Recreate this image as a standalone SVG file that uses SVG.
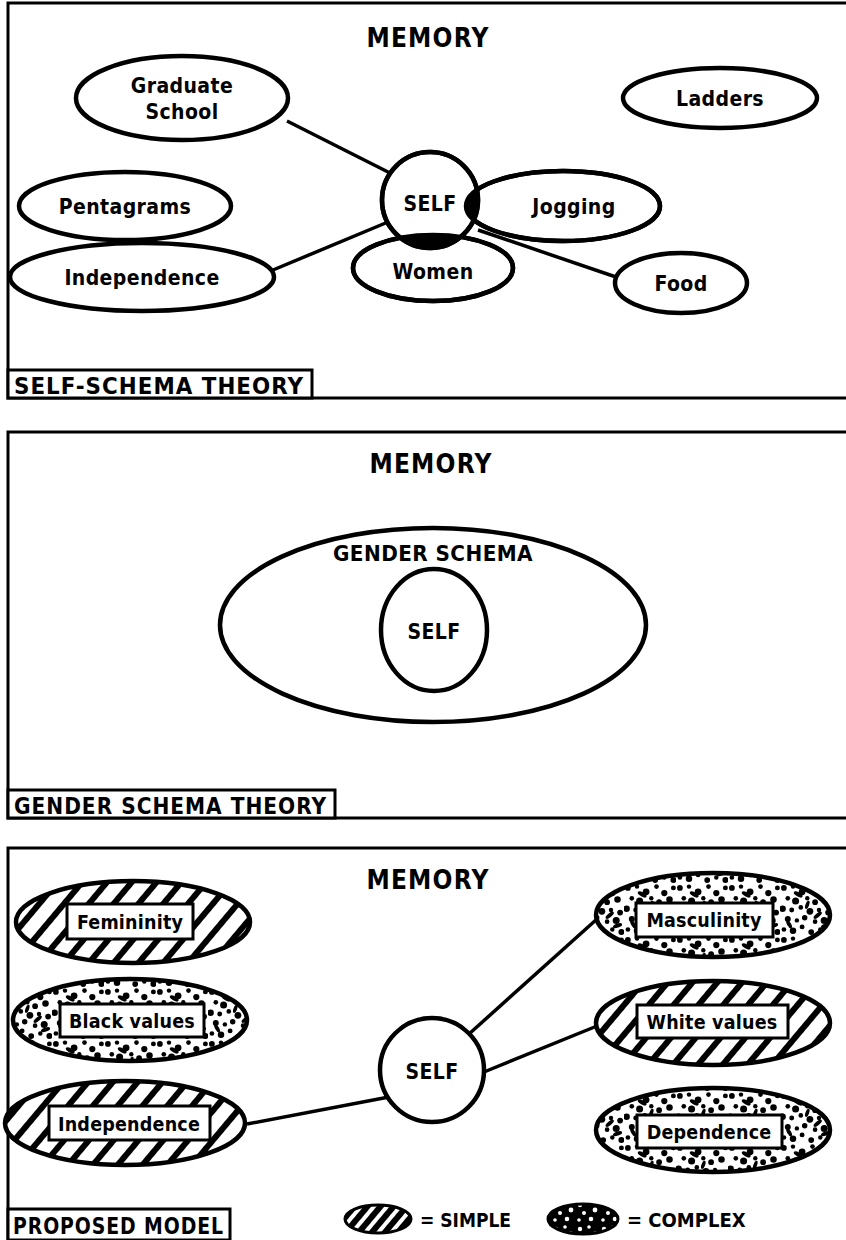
<svg xmlns="http://www.w3.org/2000/svg" width="846" height="1240" viewBox="0 0 846 1240">
<style>
text{font-family:"DejaVu Sans Condensed","DejaVu Sans","Liberation Sans",sans-serif;font-stretch:condensed;font-weight:bold;fill:#000;text-anchor:middle}
.t{font-size:21px;letter-spacing:0.4px}
.b{font-size:19.5px;letter-spacing:0.2px}
.h{font-size:26px;letter-spacing:1.2px}
.lab{font-size:23px;letter-spacing:1px;text-anchor:start}
.frame{fill:none;stroke:#000;stroke-width:3}
.node{fill:#fff;stroke:#000;stroke-width:4.5}
.edge{stroke:#000;stroke-width:3.5;fill:none}
.box{fill:#fff;stroke:#000;stroke-width:3}
.ol{stroke:#000;stroke-width:4.5}
</style>
<defs>
<pattern id="hatch" width="19" height="19" patternUnits="userSpaceOnUse" patternTransform="rotate(40)">
<rect width="19" height="19" fill="#fff"/><rect width="6" height="19" fill="#000"/>
</pattern>
<pattern id="hatchInv" width="10" height="10" patternUnits="userSpaceOnUse" patternTransform="rotate(40)">
<rect width="10" height="10" fill="#000"/><rect width="4" height="10" fill="#fff"/>
</pattern>
<pattern id="stipple" width="40" height="40" patternUnits="userSpaceOnUse" patternTransform="scale(1.3)">
<rect width="40" height="40" fill="#fff"/>
<g fill="#000">
<circle cx="3" cy="3" r="2.2"/><circle cx="10" cy="2" r="1.7"/><circle cx="17" cy="6" r="2.6"/><circle cx="25" cy="2" r="1.8"/><circle cx="31" cy="7" r="2.4"/><circle cx="38" cy="3" r="1.9"/>
<circle cx="6" cy="11" r="1.8"/><circle cx="12" cy="13" r="2.7"/><circle cx="21" cy="11" r="1.7"/><circle cx="27" cy="14" r="2.2"/><circle cx="35" cy="12" r="2.5"/>
<circle cx="2" cy="19" r="2.5"/><circle cx="9" cy="20" r="1.9"/><circle cx="16" cy="18" r="1.8"/><circle cx="23" cy="21" r="2.6"/><circle cx="30" cy="20" r="1.7"/><circle cx="37" cy="22" r="2.2"/>
<circle cx="6" cy="27" r="2.3"/><circle cx="13" cy="28" r="1.7"/><circle cx="19" cy="26" r="2.1"/><circle cx="27" cy="29" r="1.8"/><circle cx="34" cy="28" r="2.7"/>
<circle cx="3" cy="35" r="1.8"/><circle cx="10" cy="36" r="2.5"/><circle cx="17" cy="33" r="1.9"/><circle cx="24" cy="37" r="2.2"/><circle cx="31" cy="35" r="1.7"/><circle cx="38" cy="37" r="2.3"/>
<ellipse cx="14" cy="8" rx="3.8" ry="1.6" transform="rotate(30 14 8)"/><ellipse cx="29" cy="24" rx="3.9" ry="1.5" transform="rotate(-40 29 24)"/>
<ellipse cx="7" cy="31" rx="3.5" ry="1.5" transform="rotate(60 7 31)"/><ellipse cx="35" cy="32" rx="3.7" ry="1.6" transform="rotate(-20 35 32)"/>
<ellipse cx="21" cy="16" rx="3.3" ry="1.4" transform="rotate(-70 21 16)"/>
</g>
</pattern>
<pattern id="stippleInv" width="24" height="24" patternUnits="userSpaceOnUse">
<rect width="24" height="24" fill="#000"/>
<g fill="#fff"><circle cx="4" cy="5" r="2.2"/><circle cx="13" cy="3" r="1.8"/><circle cx="19" cy="10" r="2.4"/><circle cx="8" cy="13" r="2"/><circle cx="3" cy="20" r="1.8"/><circle cx="15" cy="19" r="2.3"/></g>
</pattern>
<clipPath id="clipJog"><ellipse cx="563" cy="206" rx="97" ry="35"/></clipPath>
<clipPath id="clipWomen"><ellipse cx="433" cy="268" rx="80" ry="33"/></clipPath>
</defs>
<rect width="846" height="1240" fill="#fff"/>

<!-- ============ PANEL 1 ============ -->
<g id="panel1">
<path class="frame" d="M846,3 H8 V398 H846"/>
<text class="h" x="428" y="47">MEMORY</text>
<g id="label1"><rect x="8" y="370" width="304" height="28" class="box"/><text class="lab" x="14" y="394" textLength="290" lengthAdjust="spacingAndGlyphs">SELF-SCHEMA THEORY</text></g>
</g>
<g id="connectors1">
<line class="edge" x1="287" y1="121" x2="392" y2="174"/>
<line class="edge" x1="273" y1="270" x2="388" y2="222"/>
<line class="edge" x1="478" y1="230" x2="616" y2="277"/>
</g>
<g id="n1-grad"><ellipse class="node" cx="182" cy="98" rx="106" ry="42"/><text class="t" x="182" y="93">Graduate</text><text class="t" x="182" y="119">School</text></g>
<g id="n1-ladders"><ellipse class="node" cx="720" cy="98" rx="97" ry="30"/><text class="t" x="720" y="106">Ladders</text></g>
<g id="n1-pent"><ellipse class="node" cx="125" cy="206" rx="106" ry="34"/><text class="t" x="125" y="214">Pentagrams</text></g>
<g id="n1-indep"><ellipse class="node" cx="142" cy="277" rx="132" ry="34"/><text class="t" x="142" y="285">Independence</text></g>
<g id="n1-food"><ellipse class="node" cx="681" cy="283" rx="66" ry="30"/><text class="t" x="681" y="291">Food</text></g>
<g id="n1-jog"><ellipse class="node" cx="563" cy="206" rx="97" ry="35"/><text class="t" x="574" y="214">Jogging</text></g>
<g id="n1-women"><ellipse class="node" cx="433" cy="268" rx="80" ry="33"/><text class="t" x="433" y="279">Women</text></g>
<g id="n1-self">
<circle class="node" cx="430" cy="200" r="48"/>
<circle cx="430" cy="200" r="48" fill="#000" clip-path="url(#clipJog)"/>
<circle cx="430" cy="200" r="48" fill="#000" clip-path="url(#clipWomen)"/>
<ellipse cx="563" cy="206" rx="97" ry="35" fill="none" class="ol"/>
<ellipse cx="433" cy="268" rx="80" ry="33" fill="none" class="ol"/>
<circle cx="430" cy="200" r="48" fill="none" class="ol"/>
<text class="t" x="430" y="211">SELF</text>
</g>

<!-- ============ PANEL 2 ============ -->
<g id="panel2">
<path class="frame" d="M846,432 H8 V818 H846"/>
<text class="h" x="431" y="473">MEMORY</text>
<g id="label2"><rect x="8" y="790" width="327" height="28" class="box"/><text class="lab" x="14" y="814" textLength="313" lengthAdjust="spacingAndGlyphs">GENDER SCHEMA THEORY</text></g>
</g>
<g id="n2-gender"><ellipse class="node" cx="433" cy="625" rx="213" ry="97"/><text class="t" x="433" y="561" textLength="200" lengthAdjust="spacingAndGlyphs">GENDER SCHEMA</text></g>
<g id="n2-self"><ellipse class="node" cx="434" cy="630" rx="53" ry="61"/><text class="t" x="434" y="639">SELF</text></g>

<!-- ============ PANEL 3 ============ -->
<g id="panel3">
<path class="frame" d="M846,848 H8 V1240"/>
<text class="h" x="428" y="889">MEMORY</text>
<g id="label3"><rect x="8" y="1209" width="222" height="31" class="box"/><text class="lab" x="13" y="1234" textLength="211" lengthAdjust="spacingAndGlyphs">PROPOSED MODEL</text></g>
</g>
<g id="connectors3">
<line class="edge" x1="247" y1="1124" x2="389" y2="1097"/>
<line class="edge" x1="469" y1="1034" x2="597" y2="919"/>
<line class="edge" x1="484" y1="1072" x2="597" y2="1026"/>
</g>
<g id="n3-fem"><ellipse cx="133" cy="922" rx="117" ry="41" fill="url(#hatch)" class="ol"/><rect class="box" x="67" y="904" width="126" height="35"/><text class="b" x="130" y="929">Femininity</text></g>
<g id="n3-black"><ellipse cx="130" cy="1020" rx="117" ry="41" fill="url(#stipple)" class="ol"/><rect class="box" x="60" y="1004" width="144" height="33"/><text class="b" x="132" y="1028">Black values</text></g>
<g id="n3-indep"><ellipse cx="125" cy="1123" rx="120" ry="42" fill="url(#hatch)" class="ol"/><rect class="box" x="49" y="1106" width="161" height="34"/><text class="b" x="129" y="1131">Independence</text></g>
<g id="n3-self"><circle class="node" cx="432" cy="1070" r="52"/><text class="t" x="432" y="1079">SELF</text></g>
<g id="n3-masc"><ellipse cx="713" cy="915" rx="117" ry="42" fill="url(#stipple)" class="ol"/><rect class="box" x="636" y="903" width="137" height="34"/><text class="b" x="704" y="927">Masculinity</text></g>
<g id="n3-white"><ellipse cx="713" cy="1023" rx="117" ry="42" fill="url(#hatch)" class="ol"/><rect class="box" x="637" y="1005" width="151" height="33"/><text class="b" x="712" y="1029">White values</text></g>
<g id="n3-dep"><ellipse cx="713" cy="1130" rx="117" ry="42" fill="url(#stipple)" class="ol"/><rect class="box" x="637" y="1115" width="145" height="33"/><text class="b" x="709" y="1139">Dependence</text></g>

<g id="legend">
<ellipse cx="378" cy="1219" rx="33" ry="14" fill="url(#hatchInv)" stroke="#000" stroke-width="3"/>
<text x="420" y="1227" style="text-anchor:start;font-size:19px">= SIMPLE</text>
<ellipse cx="583" cy="1219" rx="35" ry="15" fill="url(#stippleInv)" stroke="#000" stroke-width="3"/>
<text x="627" y="1227" style="text-anchor:start;font-size:20px">= COMPLEX</text>
</g>
</svg>
